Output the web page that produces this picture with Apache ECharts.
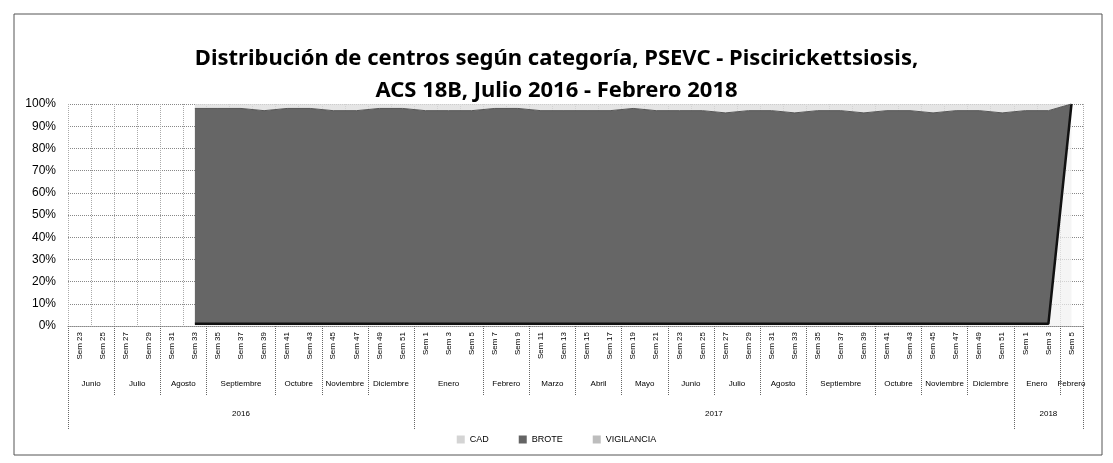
<!DOCTYPE html>
<html>
<head>
<meta charset="utf-8">
<script src="https://cdn.jsdelivr.net/npm/echarts@6/dist/echarts.min.js"></script>
<style>
html,body{margin:0;padding:0;background:#fff;}
#c{width:1113px;height:463px;}
</style>
</head>
<body>
<div id="c"></div>
<script>
// ---- data ----
const periods = [
  "Sem 23","Sem 25","Sem 27","Sem 29","Sem 31","Sem 33","Sem 35","Sem 37","Sem 39","Sem 41","Sem 43","Sem 45","Sem 47","Sem 49","Sem 51",
  "Sem 1","Sem 3","Sem 5","Sem 7","Sem 9","Sem 11","Sem 13","Sem 15","Sem 17","Sem 19","Sem 21","Sem 23","Sem 25","Sem 27","Sem 29",
  "Sem 31","Sem 33","Sem 35","Sem 37","Sem 39","Sem 41","Sem 43","Sem 45","Sem 47","Sem 49","Sem 51",
  "Sem 1","Sem 3","Sem 5"
];
const months = ["Junio","Julio","Agosto","Septiembre","Octubre","Noviembre","Diciembre",
  "Enero","Febrero","Marzo","Abril","Mayo","Junio","Julio","Agosto","Septiembre","Octubre","Noviembre","Diciembre",
  "Enero","Febrero"];
const monthSizes = [2,2,2,3,2,2,2, 3,2,2,2,2,2,2,2,3,2,2,2, 2,1];
const years = ["2016","2017","2018"];
const yearSizes = [15,26,3];
const yTicks = [0,10,20,30,40,50,60,70,80,90,100];

const cad = [null,null,null,null,null,
  1,1,1,1,1,1,1,1,1,1,1,1,1,1,1,1,1,1,1,1,1,1,1,1,1,1,1,1,1,1,1,1,1,1,1,1,1,1,
  100];
const brote = [null,null,null,null,null,
  97,97,97,96,97,97,96,96,97,97,96,96,96,97,97,96,96,96,96,97,96,96,96,95,96,96,95,96,96,95,96,96,95,96,96,95,96,96,
  0];
const vigilancia = [null,null,null,null,null,
  2,2,2,3,2,2,3,3,2,2,3,3,3,2,2,3,3,3,3,2,3,3,3,4,3,3,4,3,3,4,3,3,4,3,3,4,3,3,
  0];

// ---- helpers for grouped axis levels ----
function bounds(sizes){ const b=[0]; sizes.forEach(s=>b.push(b[b.length-1]+s)); return b; }
function centers(sizes){ const b=bounds(sizes); return sizes.map((s,i)=>b[i]+s/2); }
const mB = bounds(monthSizes), mC = centers(monthSizes);
const yB = bounds(yearSizes), yC = centers(yearSizes);
const N = periods.length;

const chart = echarts.init(document.getElementById('c'));
const font = 'Liberation Sans';
chart.setOption({
  animation:false,
  backgroundColor:'#fff',
  textStyle:{fontFamily:font,color:'#000'},
  title:{
    text:'Distribución de centros según categoría, PSEVC - Piscirickettsiosis,\nACS 18B, Julio 2016 - Febrero 2018',
    left:'center', top:38,
    textStyle:{fontFamily:'Noto Sans',fontSize:22,fontWeight:'bold',color:'#000',lineHeight:32}
  },
  legend:{
    data:['CAD','BROTE','VIGILANCIA'],
    bottom:14, left:'center',
    itemWidth:8,itemHeight:8,itemGap:30,icon:'rect',
    textStyle:{fontSize:9,color:'#000'}
  },
  graphic:[{type:'rect',shape:{x:14,y:14,width:1088,height:441},style:{fill:'none',stroke:'#555',lineWidth:1},silent:true,z:-1}],
  grid:{left:68,right:30,top:104,bottom:137},
  xAxis:[
    {type:'category',data:periods,boundaryGap:true,position:'bottom',
     axisLine:{show:true,lineStyle:{color:'#888',type:'dotted'}},
     axisTick:{show:false},
     axisLabel:{rotate:90,fontSize:8,margin:6,interval:0,color:'#000'},
     splitLine:{show:true,interval:0,lineStyle:{color:'#aaa',type:'dotted'}}},
    {type:'value',min:0,max:N,position:'bottom',
     axisLine:{show:false},splitLine:{show:false},
     axisTick:{show:true,customValues:mB,length:70,lineStyle:{color:'#666',type:'dotted'}},
     axisLabel:{customValues:mC,margin:54,fontSize:8,color:'#000',
       formatter:v=>{const i=mC.findIndex(c=>Math.abs(c-v)<1e-6);return i>=0?months[i]:'';}}},
    {type:'value',min:0,max:N,position:'bottom',
     axisLine:{show:false},splitLine:{show:false},
     axisTick:{show:true,customValues:yB,length:104,lineStyle:{color:'#666',type:'dotted'}},
     axisLabel:{customValues:yC,margin:84,fontSize:8,color:'#000',
       formatter:v=>{const i=yC.findIndex(c=>Math.abs(c-v)<1e-6);return i>=0?years[i]:'';}}}
  ],
  yAxis:{type:'value',min:0,max:100,interval:10,
    axisLine:{show:false},axisTick:{show:false},
    axisLabel:{formatter:'{value}%',fontSize:12,color:'#000',margin:12,
      customValues:yTicks},
    splitLine:{show:true,lineStyle:{color:'#888',type:'dotted'}}},
  series:[
    {name:'CAD',type:'line',stack:'t',data:cad,symbol:'none',
     itemStyle:{color:'#d4d4d4'},
     lineStyle:{color:'#111',width:2.5},
     areaStyle:{color:'#f1f1f1',opacity:0.7}},
    {name:'BROTE',type:'line',stack:'t',data:brote,symbol:'none',
     itemStyle:{color:'#646464'},
     lineStyle:{color:'#555',width:1},
     areaStyle:{color:'#666666',opacity:1}},
    {name:'VIGILANCIA',type:'line',stack:'t',data:vigilancia,symbol:'none',
     itemStyle:{color:'#bdbdbd'},
     lineStyle:{width:0},
     areaStyle:{color:'#dedede',opacity:0.8}}
  ]
});
</script>
</body>
</html>
